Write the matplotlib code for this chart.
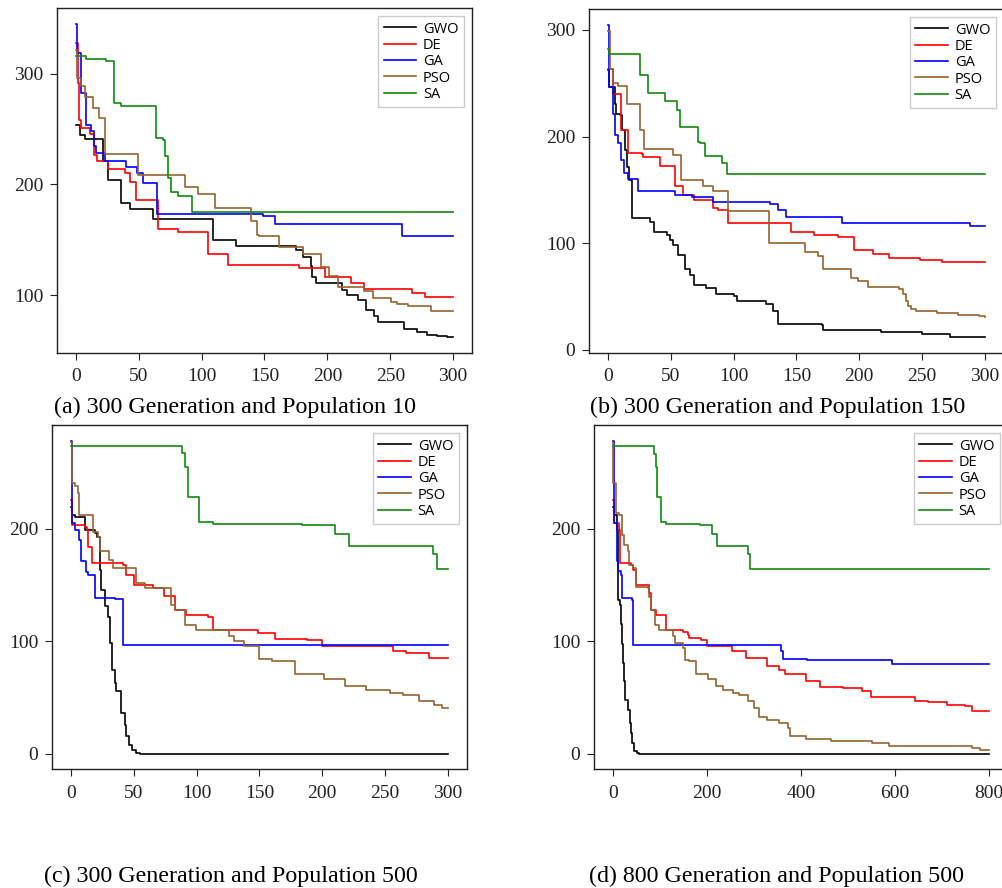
import matplotlib
matplotlib.use("Agg")
import matplotlib.pyplot as plt

# best fitness per generation as (generation, value) step points
# (a) 300 generations, population 10
a_gwo = [(0, 253.4), (3, 245), (7.6, 241.3), (21.5, 220.9), (25.4, 203.7), (35.5, 183.3),
         (42.7, 178.2), (61, 168.9), (109, 150.2), (127, 144.2), (175, 140.5), (180.6, 134.6),
         (187, 126.1), (188, 116.5), (190.9, 111.1), (211.6, 105), (216, 100.5), (224, 96),
         (230.7, 87), (237.3, 81), (239.9, 75.6), (261, 69.9), (271.6, 66.9), (279.6, 64.4),
         (287.5, 62.8), (295, 62), (300, 62)]
a_de = [(0, 328), (1.5, 291.6), (2.1, 258.5), (4, 251), (10.9, 245.5), (14.3, 226.9), (17, 220.9),
        (25.4, 214), (39.2, 210.4), (43.4, 202.3), (48, 186.3), (65, 160), (81, 157), (105, 137.6),
        (121, 127.7), (177.7, 124.3), (198.3, 116.5), (218.7, 111.1), (229.3, 106), (267.2, 102),
        (277.8, 98), (300, 98)]
a_ga = [(0, 345), (1, 318.7), (3.7, 282.6), (8.2, 254), (12.2, 248), (14.3, 234.4), (16, 228.7),
        (23, 220.9), (40, 215.8), (49, 210.4), (53, 201.3), (64.6, 173.6), (148.5, 171.2),
        (158.6, 164.6), (259.3, 153.2), (300, 153.2)]
a_pso = [(0, 321.7), (1, 296), (4, 288.5), (7.6, 279), (13.5, 269), (18.3, 260), (22.8, 227.8),
         (49.8, 208.2), (86.9, 197.7), (97, 191.4), (111, 178.8), (139.6, 166.7), (143.8, 154.7),
         (146, 153.2), (161.8, 143.6), (180.3, 137.5), (194.9, 125.5), (201.5, 117), (208.1, 107.5),
         (229.3, 103.5), (236, 97.5), (250.5, 93.6), (255, 92), (264.5, 90), (282.3, 86.1), (300, 86.1)]
a_sa = [(0, 315.6), (8, 313), (24, 311), (30.6, 273.5), (36, 270.5), (64, 242), (69, 240),
        (70.5, 225.4), (73.5, 205.9), (75.7, 192.9), (81, 189.9), (92.5, 175.2), (300, 175.2)]

# (b) 300 generations, population 150
b_gwo = [(0, 262.7), (1, 246.5), (5.3, 231), (6.5, 221.6), (9.5, 220), (11, 206), (13.4, 187.4),
         (15, 171.8), (17, 159.4), (18.8, 123.6), (33.4, 119.5), (36.5, 111), (46.6, 108), (49, 103.4),
         (52, 98.7), (56, 89.3), (61, 76), (65, 70.6), (68, 60.4), (78, 57.9), (86, 52), (100, 50.4),
         (103, 45.8), (126, 43), (131, 36.4), (135, 24), (170, 23), (171, 18.4), (217, 16.8),
         (250, 14.6), (272, 12.4), (300, 12)]
b_de = [(0, 263.6), (3.5, 240.3), (10, 206), (15.6, 184.9), (26.7, 183.6), (28, 181.2), (41.3, 172.5),
        (53.2, 153.8), (59.3, 145.4), (68.3, 140.7), (83.2, 133), (87.2, 130.7), (95.6, 119),
        (146, 110.5), (164, 108), (183, 105.8), (196, 94), (211, 90.3), (224, 86.2), (248, 84.7),
        (266, 82.8), (300, 82.8)]
b_ga = [(0, 305), (0.8, 246.5), (3.7, 221.6), (5.6, 201.4), (8.2, 193.6), (10.3, 178), (13, 165.6),
        (16, 160), (24, 149.4), (53, 145), (66.5, 143), (83.6, 138.5), (129, 137), (135, 131),
        (142, 124.5), (186, 119), (288, 115.8), (300, 115.8)]
b_pso = [(0, 299.4), (1.2, 263), (3.7, 250.2), (7.5, 247), (15.4, 231), (25.4, 206), (28.6, 188),
         (52, 182.7), (57.7, 159.4), (75.2, 153.8), (83.6, 149.4), (95.6, 129.8), (128, 100.2),
         (157, 91.5), (167, 87.8), (171, 76), (193.5, 67.5), (199, 65), (207, 59), (232, 57),
         (235, 52), (237, 46), (239, 41), (241, 38), (245, 36.4), (262, 34.9), (279, 33),
         (295, 31.5), (300, 31)]
b_sa = [(0, 282.4), (1, 277.7), (25.4, 257.4), (32, 241), (45.3, 233.4), (55, 224.7), (57.4, 209.2),
        (71.7, 195.1), (73, 193.6), (77, 181.8), (90.3, 175), (94.3, 165.3), (300, 165.3)]

# (c) 300 generations, population 500
c_gwo = [(0, 219.8), (1, 212.4), (3, 210.4), (11, 199), (19, 196), (20.2, 193.2), (22.8, 163.6),
         (24, 145.2), (26.8, 131), (29.4, 122), (30.7, 98.4), (32.6, 74.7), (34.7, 62.8), (36, 55.4),
         (40, 36.2), (42.6, 25.8), (44, 15.4), (45.8, 8), (48.4, 3), (51.9, 0.6), (55, 0), (300, 0)]
c_de = [(0, 225.8), (1, 203.6), (10.9, 202), (13, 199), (13.8, 184.3), (16.7, 169.5), (41.3, 168),
        (43.4, 159), (50, 150.2), (65.1, 147.3), (73.9, 140.7), (82.9, 128), (91.7, 123.6),
        (109, 122), (113, 109.6), (148.5, 107.3), (162.6, 102.2), (188, 100.7), (200, 96),
        (232, 95.4), (256, 91), (267, 90), (285, 85), (300, 85)]
c_ga = [(0, 278.5), (1, 205), (2.9, 199), (6.1, 190.2), (7.7, 171), (11.7, 162), (13.8, 159),
        (18.8, 138.4), (34.7, 137.5), (41.3, 96.9), (245, 96.4), (300, 96.4)]
c_pso = [(0, 277.6), (0.5, 240.6), (3, 238), (5.5, 231.7), (6.4, 212.4), (17.5, 197.6), (21.5, 193.2),
         (22.8, 180.7), (30, 172.4), (33, 165), (50.6, 165), (52, 151.7), (58.5, 147.3), (78.4, 147.3),
         (79.7, 132.4), (82.4, 128), (90.9, 114.7), (99.6, 110.2), (126, 105), (130, 100),
         (138, 95.4), (150, 84.4), (160, 82), (178, 71), (201.5, 66.4), (218, 60.4), (235, 57),
         (254, 54), (264, 51.9), (277, 47), (289, 43.6), (295, 40.6), (300, 40.6)]
c_sa = [(0, 273.8), (88.2, 267.3), (91, 255.4), (93, 228.7), (102.2, 206.5), (113, 204.4),
        (184, 203.3), (210, 195.6), (221, 185), (288, 177.8), (291, 164), (300, 164)]

# (d) 800 generations, population 500
d_gwo = [(0, 219.8), (2, 212), (9.2, 199), (10.6, 136.9), (16.3, 132.4), (17.5, 115), (19, 98),
         (21, 80.6), (23, 65), (25, 55), (26.9, 48), (31.8, 39.1), (36.8, 27.3), (39, 18), (41, 9.5),
         (46, 2), (51.6, 0.6), (55, 0), (800, 0)]
d_de = [(0, 225.8), (3.5, 205), (14.1, 199), (16.3, 169.5), (38.9, 168), (42.4, 163.6), (49.5, 150.2),
        (77.8, 142.8), (81.3, 128), (91.9, 123.6), (113.1, 110.2), (148.5, 108), (159, 105.8),
        (162.6, 102.8), (187.4, 101), (200, 96), (244, 95.4), (254.6, 91), (282.8, 85), (327, 78.2),
        (354, 74.7), (366, 70.8), (411, 64.3), (441, 59.3), (489, 58), (530, 55.4), (550, 50),
        (643, 47), (671, 46), (711, 43.6), (750, 42), (764, 37.6), (800, 37.6)]
d_ga = [(0, 278.5), (2, 205), (8, 171), (12, 162.7), (17, 159), (20, 138.4), (40, 137), (42, 96.9),
        (351, 96.9), (358, 91), (361, 84.4), (414, 83), (593, 80), (800, 80)]
d_pso = [(0, 276.2), (1, 240.6), (7, 214), (14.1, 212), (19.1, 194.7), (24.7, 185.8), (31.8, 179.9),
         (33.9, 168), (42.4, 165), (49.5, 148.7), (74.2, 147.3), (77.8, 139.8), (81.3, 128),
         (90.5, 114.7), (99, 110.2), (127.3, 104.3), (132.2, 98.4), (148.5, 94), (153.4, 83.6),
         (163, 82), (178, 71), (202, 66.4), (219, 60.4), (234, 57), (255, 54), (269, 51.9),
         (287, 47), (300, 40.6), (310, 32.3), (329, 30.2), (354, 27.3), (372, 22.8), (377, 16),
         (411, 13), (464, 11), (551, 9.5), (588, 7), (764, 5), (782, 3), (800, 3)]
d_sa = [(0, 273.8), (88, 267), (91, 255), (93, 228), (103, 206.5), (114, 204.4), (185, 203.3),
        (211, 195.6), (221, 185), (288, 177.8), (291, 164), (800, 164)]

labels = ["GWO", "DE", "GA", "PSO", "SA"]
colors = ["#000000", "#ff0000", "#0000ff", "#97622f", "#118a11"]

panels = [
    ([a_gwo, a_de, a_ga, a_pso, a_sa], [0, 50, 100, 150, 200, 250, 300], [100, 200, 300],
     "(a) 300 Generation and Population 10"),
    ([b_gwo, b_de, b_ga, b_pso, b_sa], [0, 50, 100, 150, 200, 250, 300], [0, 100, 200, 300],
     "(b) 300 Generation and Population 150"),
    ([c_gwo, c_de, c_ga, c_pso, c_sa], [0, 50, 100, 150, 200, 250, 300], [0, 100, 200],
     "(c) 300 Generation and Population 500"),
    ([d_gwo, d_de, d_ga, d_pso, d_sa], [0, 200, 400, 600, 800], [0, 100, 200],
     "(d) 800 Generation and Population 500"),
]

W, H = 1003, 888
# axes boxes in pixels: left, top, right, bottom
boxes = [(57, 8, 472, 353), (589.3, 9, 1003.7, 352.7), (52.3, 425, 466.7, 769.3), (594, 425, 1007.7, 769.3)]
captions_xy = [(235, 413), (778, 413), (230.5, 881.5), (777, 881.5)]

fig = plt.figure(figsize=(W / 100, H / 100), dpi=100)

for (series, xt, yt, caption), (l, t, r, b), (cx, cy) in zip(panels, boxes, captions_xy):
    ax = fig.add_axes([l / W, 1 - b / H, (r - l) / W, (b - t) / H])
    for pts, lab, col in zip(series, labels, colors):
        gx = [p[0] for p in pts]
        gy = [p[1] for p in pts]
        ax.step(gx, gy, where="post", color=col, lw=1.2, label=lab)
    ax.margins(0.05)
    ax.set_xticks(xt)
    ax.set_yticks(yt)
    for lab in ax.get_xticklabels() + ax.get_yticklabels():
        lab.set_fontfamily("Liberation Serif")
        lab.set_fontsize(14)
    ax.tick_params(axis="both", direction="out", length=5, width=0.8, colors="#222222")
    ax.tick_params(axis="x", pad=6)
    ax.tick_params(axis="y", pad=5)
    for s in ax.spines.values():
        s.set_linewidth(1.0)
        s.set_color("#222222")
    leg = ax.legend(loc="upper right", prop={"family": "Open Sans", "size": 10.5},
                    frameon=True, fancybox=False, framealpha=1, edgecolor="#cccccc",
                    handlelength=2.25, handletextpad=0.45, labelspacing=0.09,
                    borderpad=0.38, borderaxespad=0.55)
    leg.get_frame().set_linewidth(1.0)
    fig.text(cx / W, 1 - cy / H, caption, ha="center", va="baseline",
             family="Liberation Serif", fontsize=17.3)

fig.savefig("out.png", dpi=100)
